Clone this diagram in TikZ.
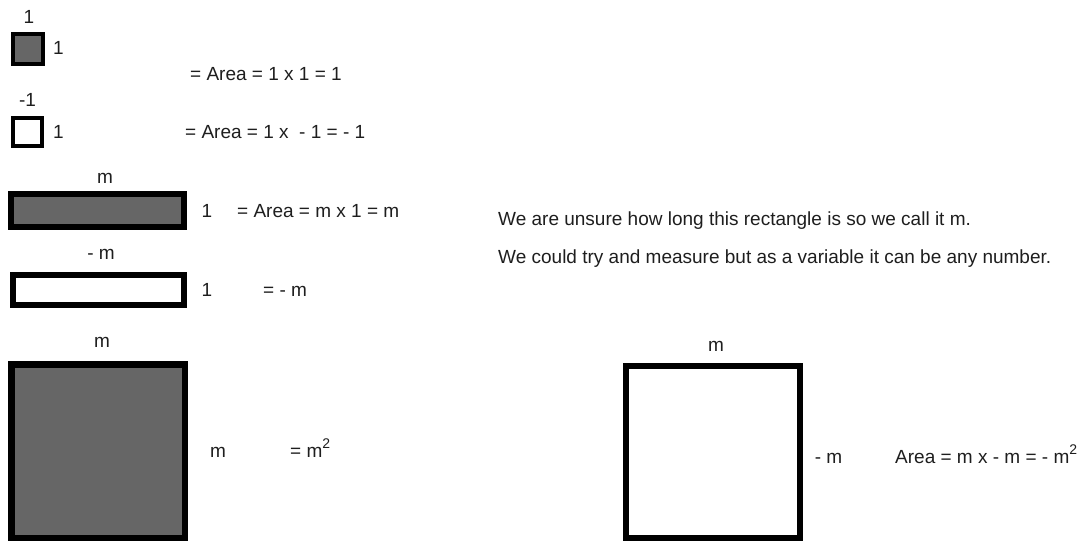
\documentclass[tikz,border=0pt]{standalone}
\usepackage{xcolor}
\usepackage{fontspec}
\setmainfont{Liberation Sans}
\usepackage{tikz}
\definecolor{tilegrey}{RGB}{102,102,102}
\definecolor{inkgrey}{RGB}{30,30,30}
\newcommand{\sqmark}{\raisebox{9pt}{\fontsize{14}{14}\selectfont 2}}

\begin{document}
\begin{tikzpicture}[x=1pt, y=-1pt]
        \tikzset{tile/.style={draw=black, line join=miter},
                 lbl/.style={anchor=base, inner sep=0pt, text=inkgrey, font=\fontsize{19}{22}\selectfont},
                 sum/.style={lbl, anchor=base west}}
        \useasboundingbox (0,0) rectangle (1083,541);
        % unit tiles

        \draw[tile, fill=tilegrey, line width=4] (13,34) rectangle (43,64);
        \node[lbl] (onetop) at (29,23) {1};
        \node[lbl] (oneside) at (58.5,54) {1};
        \node[sum] (areaone) at (190,80) {= Area = 1 x 1 = 1};

        \draw[tile, fill=white, line width=4] (13,118) rectangle (42,146);
        \node[lbl] (negonetop) at (27.5,106) {-1};
        \node[lbl] (negoneside) at (58.5,138) {1};
        \node[sum] (areanegone) at (185,138) {= Area = 1 x \ - 1 = - 1};

        % m by 1 strips
        \draw[tile, fill=tilegrey, line width=6] (11,194) rectangle (184,227);
        \node[lbl] (mtop) at (105,183) {m};
        \node[lbl] (mside) at (207,217) {1};
        \node[sum] (aream) at (237,217) {= Area = m x 1 = m};

        \draw[tile, fill=white, line width=6] (13,275) rectangle (184,305);
        \node[lbl] (negmtop) at (101,259) {- m};
        \node[lbl] (negmside) at (207,296) {1};
        \node[sum] (areanegm) at (263,296) {= - m};

        % m by m squares
        \draw[tile, fill=tilegrey, line width=6.5] (11.25,364.25) rectangle (184.75,538);
        \node[lbl] (sqtop) at (102,347) {m};
        \node[lbl] (sqside) at (218,457) {m};
        \node[sum] (areasq) at (290,457) {= m\sqmark};

        \node[sum] (noteone) at (498,225) {We are unsure how long this rectangle is so we call it m.};
        \node[sum] (notetwo) at (498,263) {We could try and measure but as a variable it can be any number.};

        \draw[tile, fill=white, line width=6] (626,366) rectangle (800,538);
        \node[lbl] (negsqtop) at (716,351) {m};
        \node[lbl] (negsqside) at (828.5,463) {- m};
        \node[sum] (areanegsq) at (895,463) {Area = m x - m = - m\sqmark};
\end{tikzpicture}
\end{document}
